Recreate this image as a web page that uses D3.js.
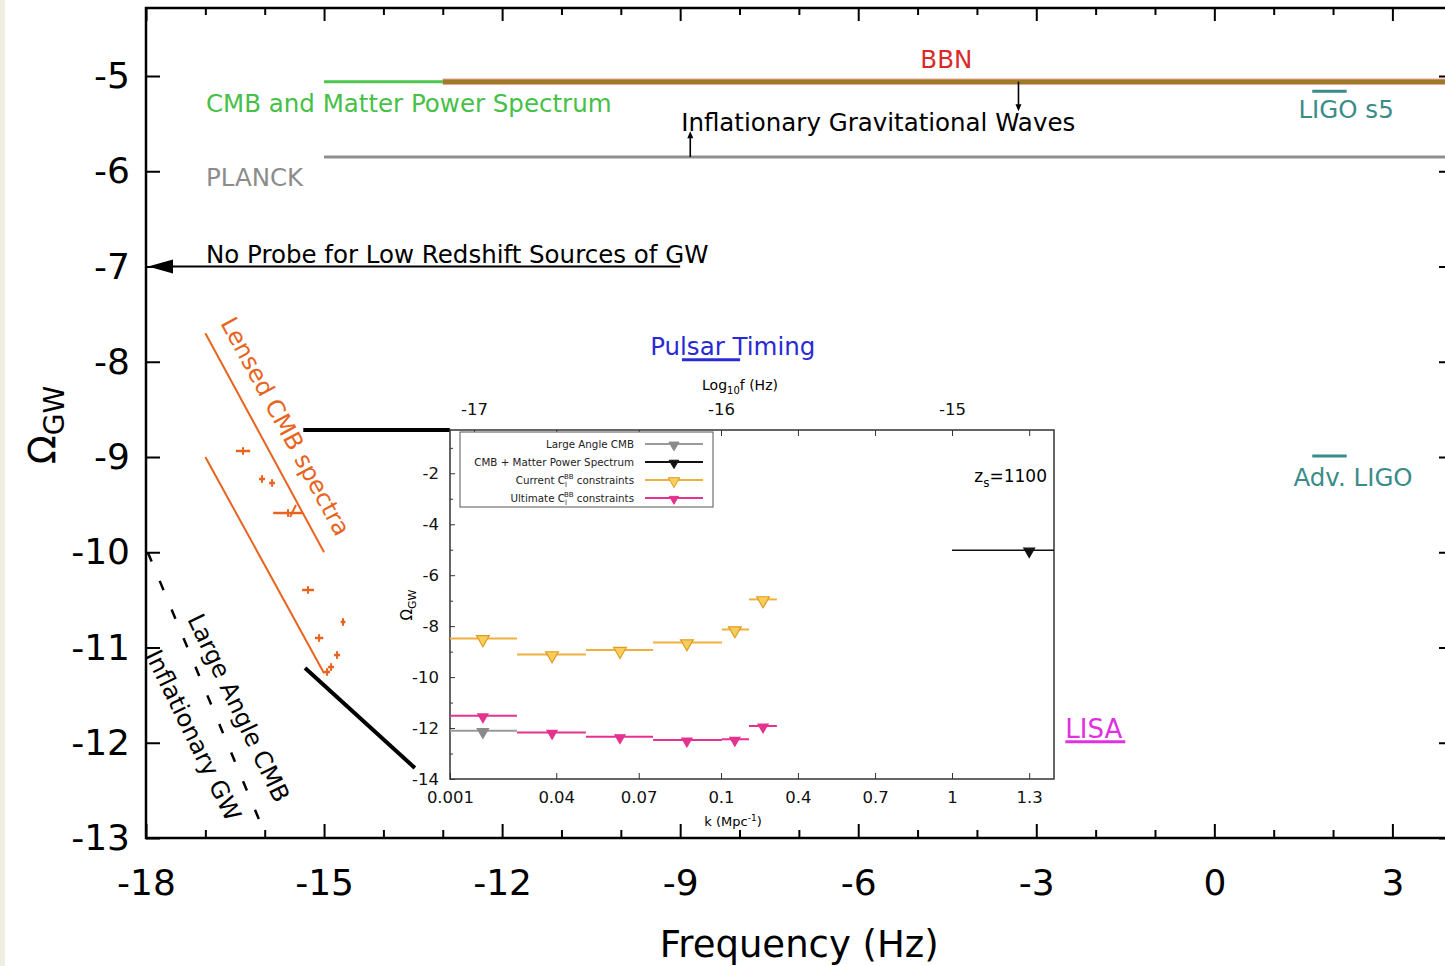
<!DOCTYPE html>
<html>
<head>
<meta charset="utf-8">
<script src="https://cdn.jsdelivr.net/npm/d3@7"></script>
<style>
    body { margin: 0; background: #fff; }
    svg { display: block; font-family: "DejaVu Sans", sans-serif; }
</style>
</head>
<body>
<div id="chart"></div>
<script>
// ---- main plot data ----
const freqTicks = [-18, -15, -12, -9, -6, -3, 0, 3];
const omegaTicks = [-5, -6, -7, -8, -9, -10, -11, -12, -13];

// horizontal constraint lines (log10 f range, log10 Omega)
const limitNames = ["CMB and Matter Power Spectrum", "BBN", "PLANCK"];
const limitFrom = [-15, -13, -15];
const limitTo = [-13, 3.92, 3.92];
const limitOmega = [-5.06, -5.06, -5.85];

// small arrows of the inflationary GW label
const igwArrowF = [-3.3, -8.83];
const igwArrowFrom = [-5.06, -5.85];
const igwArrowTo = [-5.37, -5.58];

// detector sensitivity bars
const detNames = ["LIGO s5", "Adv. LIGO", "Pulsar Timing", "LISA"];
const detFrom = [1.65, 1.65, -8.97, -2.51];
const detTo = [2.23, 2.23, -7.99, -1.50];
const detOmega = [-5.16, -8.99, -7.98, -11.99];

// lensed CMB spectra band and points
const lensedUpper = [[-17, -7.70], [-15, -10.0]];
const lensedLower = [[-17, -9.0], [-15, -11.27]];
const lensedF = [-16.365, -16.045, -15.876, -15.607, -15.270, -14.680, -15.084, -14.781, -14.882, -14.949];
const lensedOmega = [-8.937, -9.231, -9.273, -9.588, -10.396, -10.732, -10.900, -11.079, -11.205, -11.257];
const lensedHalfW = [0.12, 0.05, 0.05, 0.25, 0.1, 0.04, 0.07, 0.05, 0.05, 0.05];

// large angle CMB (dashed)
const largeAngle = [[-17.97, -10.0], [-16.0, -12.95]];

// ---- inset data ----
const insetOmegaTicks = [-2, -4, -6, -8, -10, -12, -14];
const logfTicks = [-17, -16.667, -16.333, -16, -15.667, -15.333, -15, -14.667];
const kLabels = ["0.001", "0.04", "0.07", "0.1", "0.4", "0.7", "1", "1.3"];
const kLabelAt = [-17.1, -16.667, -16.333, -16, -15.667, -15.333, -15, -14.667];

const binLo = [-17.1, -16.826, -16.547, -16.275, -15.996, -15.879];
const binHi = [-16.826, -16.547, -16.275, -15.996, -15.879, -15.758];
const binMid = [-16.964, -16.684, -16.409, -16.138, -15.94, -15.818];
const currentBB = [-8.48, -9.11, -8.94, -8.64, -8.13, -6.95];
const ultimateBB = [-11.52, -12.17, -12.34, -12.47, -12.44, -11.92];
const largeAngleCMB = [-12.11];
const cmbMatterLo = [-15.0], cmbMatterHi = [-14.56], cmbMatterMid = [-14.667];
const cmbMatterPS = [-5.02];

const legendNames = ["Large Angle CMB", "CMB + Matter Power Spectrum", "Current C|BB| constraints", "Ultimate C|BB| constraints"];

// ---- set up ----
const W = 1445, H = 966;
const svg = d3.select("#chart").append("svg").attr("width", W).attr("height", H);

svg.append("rect").attr("x", 0).attr("y", 0).attr("width", 5).attr("height", H).attr("fill", "#efece1");

const plot = {left: 146, top: 8, right: 1447, bottom: 838};
const x = d3.scaleLinear().domain([-18, 3.92]).range([plot.left, plot.right]);
const y = d3.scaleLinear().domain([-13, -4.286]).range([plot.bottom, plot.top]);

function styleAxis(g, size) {
    g.select(".domain").remove();
    g.selectAll("line").attr("stroke", "#000").attr("stroke-width", 2);
    g.attr("font-family", null).attr("font-size", size);
    g.selectAll("text").attr("fill", "#000");
}

let minorF = d3.range(-17, 4).filter(v => v % 3 !== 0);

svg.append("g").attr("transform", `translate(0,${plot.bottom})`)
    .call(d3.axisBottom(x).tickValues(freqTicks).tickSize(-14).tickPadding(31).tickFormat(d => String(d)))
    .call(g => styleAxis(g, 36));
svg.append("g").attr("transform", `translate(0,${plot.bottom})`)
    .call(d3.axisBottom(x).tickValues(minorF).tickSize(-8).tickFormat(""))
    .call(g => styleAxis(g, 36));
svg.append("g").attr("transform", `translate(0,${plot.top})`)
    .call(d3.axisTop(x).tickValues(freqTicks).tickSize(-13).tickFormat(""))
    .call(g => styleAxis(g, 36));
svg.append("g").attr("transform", `translate(0,${plot.top})`)
    .call(d3.axisTop(x).tickValues(minorF).tickSize(-7).tickFormat(""))
    .call(g => styleAxis(g, 36));
svg.append("g").attr("transform", `translate(${plot.left},0)`)
    .call(d3.axisLeft(y).tickValues(omegaTicks).tickSize(-14).tickPadding(16).tickFormat(d => String(d)))
    .call(g => styleAxis(g, 36));
svg.append("g").attr("transform", `translate(${plot.right},0)`)
    .call(d3.axisRight(y).tickValues(omegaTicks).tickSize(-8).tickFormat(""))
    .call(g => styleAxis(g, 36));

svg.append("rect")
    .attr("x", plot.left).attr("y", plot.top)
    .attr("width", plot.right - plot.left).attr("height", plot.bottom - plot.top)
    .attr("fill", "none").attr("stroke", "#000").attr("stroke-width", 2.5);

// axis titles
svg.append("text")
    .attr("x", (x(-18) + x(3)) / 2 + 30).attr("y", 957)
    .attr("text-anchor", "middle").attr("font-size", 37)
    .text("Frequency (Hz)");

let ylab = svg.append("text")
    .attr("transform", "translate(55,425) rotate(-90)")
    .attr("text-anchor", "middle").attr("font-size", 38);
ylab.append("tspan").text("Ω");
ylab.append("tspan").attr("font-size", 28).attr("dy", 9).text("GW");

// ---- constraint lines ----
const limitColor = ["#4cc64c", "#9c7a26", "#8f8f8f"];
const limitWidth = [3, 4.5, 3];
// red rim for BBN band
svg.append("line")
    .attr("x1", x(limitFrom[1])).attr("x2", x(limitTo[1]))
    .attr("y1", y(limitOmega[1])).attr("y2", y(limitOmega[1]))
    .attr("stroke", "#eca69c").attr("stroke-width", 6.5);
limitNames.forEach((n, i) => {
    svg.append("line")
        .attr("x1", x(limitFrom[i])).attr("x2", x(limitTo[i]))
        .attr("y1", y(limitOmega[i])).attr("y2", y(limitOmega[i]))
        .attr("stroke", limitColor[i]).attr("stroke-width", limitWidth[i]);
});

// arrows for inflationary GW
igwArrowF.forEach((f, i) => {
    let x0 = x(f), y0 = y(igwArrowFrom[i]), y1 = y(igwArrowTo[i]);
    let dir = y1 > y0 ? 1 : -1;
    svg.append("line").attr("x1", x0).attr("x2", x0).attr("y1", y0).attr("y2", y1 - dir * 5)
        .attr("stroke", "#000").attr("stroke-width", 1.6);
    svg.append("path")
        .attr("d", `M${x0 - 3},${y1 - dir * 7}L${x0 + 3},${y1 - dir * 7}L${x0},${y1}Z`)
        .attr("fill", "#000");
});

// no probe arrow
svg.append("line")
    .attr("x1", x(-9)).attr("x2", x(-18) + 20)
    .attr("y1", y(-7)).attr("y2", y(-7))
    .attr("stroke", "#000").attr("stroke-width", 2);
svg.append("path")
    .attr("d", `M${x(-18) + 2},${y(-7)}L${x(-18) + 27},${y(-7) - 7}L${x(-18) + 27},${y(-7) + 7}Z`)
    .attr("fill", "#000");

// detector bars
const detColor = ["#3b8c89", "#3b8c89", "#2a2ad4", "#e030e0"];
detNames.forEach((n, i) => {
    svg.append("line")
        .attr("x1", x(detFrom[i])).attr("x2", x(detTo[i]))
        .attr("y1", y(detOmega[i])).attr("y2", y(detOmega[i]))
        .attr("stroke", detColor[i]).attr("stroke-width", 3);
});

// annotation texts
const notes = [
    {t: "CMB and Matter Power Spectrum", f: -16.99, o: -5.378, c: "#46c046"},
    {t: "BBN", f: -4.516, o: -4.916, c: "#d82a2a", a: "middle"},
    {t: "Inflationary Gravitational Waves", f: -8.983, o: -5.577, c: "#000"},
    {t: "PLANCK", f: -16.99, o: -6.155, c: "#8c8c8c"},
    {t: "LIGO s5", f: 1.417, o: -5.441, c: "#3b8c89"},
    {t: "No Probe for Low Redshift Sources of GW", f: -16.99, o: -6.963, c: "#000"},
    {t: "Pulsar Timing", f: -9.505, o: -7.929, c: "#2a2ad4"},
    {t: "Adv. LIGO", f: 1.333, o: -9.304, c: "#3b8c89"},
    {t: "LISA", f: -2.51, o: -11.95, c: "#e030e0", s: 26}
];
notes.forEach(n => {
    svg.append("text")
        .attr("x", x(n.f)).attr("y", y(n.o))
        .attr("text-anchor", n.a || "start")
        .attr("font-size", n.s || 24.5).attr("fill", n.c)
        .text(n.t);
});

// ---- lensed CMB spectra ----
const orange = "#e8641e";
const lineGen = d3.line().x(d => x(d[0])).y(d => y(d[1]));
[lensedUpper, lensedLower].forEach(l => {
    svg.append("path").attr("d", lineGen(l))
        .attr("fill", "none").attr("stroke", orange).attr("stroke-width", 2);
});
lensedF.forEach((f, i) => {
    let cx = x(f), cy = y(lensedOmega[i]);
    svg.append("line")
        .attr("x1", x(f - lensedHalfW[i])).attr("x2", x(f + lensedHalfW[i]))
        .attr("y1", cy).attr("y2", cy)
        .attr("stroke", orange).attr("stroke-width", 2.5);
    svg.append("line")
        .attr("x1", cx).attr("x2", cx)
        .attr("y1", y(lensedOmega[i] + 0.04)).attr("y2", y(lensedOmega[i] - 0.04))
        .attr("stroke", orange).attr("stroke-width", 2);
});
// slanted error on the wide point
svg.append("line")
    .attr("x1", x(lensedF[3]) + 2).attr("y1", y(lensedOmega[3]) + 4)
    .attr("x2", x(lensedF[3]) + 8).attr("y2", y(lensedOmega[3]) - 8)
    .attr("stroke", orange).attr("stroke-width", 2);

let ang1 = Math.atan2(y(lensedUpper[1][1]) - y(lensedUpper[0][1]), x(lensedUpper[1][0]) - x(lensedUpper[0][0])) * 180 / Math.PI;
svg.append("text")
    .attr("transform", `translate(220,323) rotate(${ang1})`)
    .attr("font-size", 24).attr("fill", orange)
    .text("Lensed CMB spectra");

// large angle CMB dashed line
svg.append("path").attr("d", lineGen(largeAngle))
    .attr("fill", "none").attr("stroke", "#000").attr("stroke-width", 2.5)
    .attr("stroke-dasharray", "10,21");
svg.append("text")
    .attr("transform", "translate(187,619) rotate(64.5)")
    .attr("font-size", 24).attr("fill", "#000")
    .text("Large Angle CMB");
svg.append("text")
    .attr("transform", "translate(145,655) rotate(64)")
    .attr("font-size", 24).attr("fill", "#000")
    .text("Inflationary GW");

// connectors to the inset
const connectors = [[[-15.35, -8.717], [-12.88, -8.717]], [[-15.32, -11.215], [-13.47, -12.265]]];
connectors.forEach(c => {
    svg.append("path").attr("d", lineGen(c))
        .attr("stroke", "#000").attr("stroke-width", 4).attr("fill", "none");
});

// ---- inset ----
const inset = {left: 450, top: 430, width: 604, height: 349};
const xi = d3.scaleLinear().domain([-17.1, -17, -16, -15, -14.56]).range([0, 24, 271, 502, 604]);
const yi = d3.scaleLinear().domain([-14, -0.3]).range([inset.height, 0]);

const gi = svg.append("g").attr("transform", `translate(${inset.left},${inset.top})`);
gi.append("rect").attr("width", inset.width).attr("height", inset.height)
    .attr("fill", "#fff");

function styleInset(g) {
    g.select(".domain").remove();
    g.selectAll("line").attr("stroke", "#333").attr("stroke-width", 1);
    g.attr("font-family", null).attr("font-size", 16.5);
    g.selectAll("text").attr("fill", "#111");
}

gi.append("g").attr("transform", `translate(0,${inset.height})`)
    .call(d3.axisBottom(xi).tickValues(kLabelAt).tickSize(-6).tickPadding(12).tickFormat((d, i) => kLabels[i]))
    .call(styleInset);
gi.append("g")
    .call(d3.axisTop(xi).tickValues(logfTicks).tickSize(-6).tickPadding(15)
        .tickFormat(d => Math.abs(d - Math.round(d)) < 1e-6 ? String(Math.round(d)) : ""))
    .call(styleInset);
gi.append("g")
    .call(d3.axisLeft(yi).tickValues(insetOmegaTicks).tickSize(-5).tickPadding(11).tickFormat(d => String(d)))
    .call(styleInset);
gi.append("g")
    .call(d3.axisLeft(yi).tickValues(d3.range(-13, -0.5, 2)).tickSize(-3).tickFormat(""))
    .call(styleInset);

gi.append("rect").attr("width", inset.width).attr("height", inset.height)
    .attr("fill", "none").attr("stroke", "#333").attr("stroke-width", 1.5);

// inset axis titles
let lt = gi.append("text").attr("x", 290).attr("y", -40).attr("text-anchor", "middle").attr("font-size", 14);
lt.append("tspan").text("Log");
lt.append("tspan").attr("font-size", 10).attr("dy", 4).text("10");
lt.append("tspan").attr("dy", -4).text("f (Hz)");

let kt = gi.append("text").attr("x", 283).attr("y", 396).attr("text-anchor", "middle").attr("font-size", 13);
kt.append("tspan").text("k (Mpc");
kt.append("tspan").attr("font-size", 9).attr("dy", -5).text("-1");
kt.append("tspan").attr("dy", 5).text(")");

let oi = gi.append("text").attr("transform", "translate(-38,175) rotate(-90)")
    .attr("text-anchor", "middle").attr("font-size", 15);
oi.append("tspan").text("Ω");
oi.append("tspan").attr("font-size", 11).attr("dy", 4).text("GW");

let zt = gi.append("text").attr("x", 597).attr("y", 52).attr("text-anchor", "end").attr("font-size", 17);
zt.append("tspan").text("z");
zt.append("tspan").attr("font-size", 12).attr("dy", 5).text("s");
zt.append("tspan").attr("dy", -5).text("=1100");

// inset series
const tri = d3.symbol().type(d3.symbolTriangle);
const series = [
    {lo: binLo, hi: binHi, mid: binMid, v: currentBB, c: "#f0b040", fill: "#f6cf5a", stroke: "#e39a22", s: 70, w: 2},
    {lo: binLo, hi: binHi, mid: binMid, v: ultimateBB, c: "#e4338f", fill: "#e4338f", stroke: "#e4338f", s: 45, w: 2},
    {lo: binLo, hi: binHi, mid: binMid, v: largeAngleCMB, c: "#9a9a9a", fill: "#8a8a8a", stroke: "#8a8a8a", s: 55, w: 2},
    {lo: cmbMatterLo, hi: cmbMatterHi, mid: cmbMatterMid, v: cmbMatterPS, c: "#111", fill: "#111", stroke: "#111", s: 50, w: 1.5}
];
series.forEach(s => {
    s.v.forEach((v, i) => {
        gi.append("line")
            .attr("x1", xi(s.lo[i])).attr("x2", xi(s.hi[i]))
            .attr("y1", yi(v)).attr("y2", yi(v))
            .attr("stroke", s.c).attr("stroke-width", s.w);
        gi.append("path")
            .attr("d", tri.size(s.s)())
            .attr("transform", `translate(${xi(s.mid[i])},${yi(v) + 1}) rotate(180)`)
            .attr("fill", s.fill).attr("stroke", s.stroke).attr("stroke-width", 1.2);
    });
});

// legend
const legendColor = ["#9a9a9a", "#111", "#f0b040", "#e4338f"];
const legendOrder = [2, 3, 0, 1];
const lg = gi.append("g").attr("transform", "translate(10,2)");
lg.append("rect").attr("width", 253).attr("height", 75)
    .attr("fill", "#fff").attr("stroke", "#555").attr("stroke-width", 1);
legendNames.forEach((n, i) => {
    let yy = 12 + i * 18;
    let parts = n.split("|");
    let t = lg.append("text").attr("x", 174).attr("y", yy + 4)
        .attr("text-anchor", "end").attr("font-size", 10.3).attr("fill", "#222");
    if (parts.length === 1) {
        t.text(n);
    } else {
        t.append("tspan").text(parts[0]);
        t.append("tspan").attr("font-size", 7).attr("dy", 3).text("l");
        t.append("tspan").attr("font-size", 7).attr("dx", -3).attr("dy", -8).text(parts[1]);
        t.append("tspan").attr("dy", 5).text(parts[2]);
    }
    let s = series[legendOrder[i]];
    lg.append("line").attr("x1", 185).attr("x2", 243).attr("y1", yy).attr("y2", yy)
        .attr("stroke", legendColor[i]).attr("stroke-width", 1.8);
    lg.append("path").attr("d", tri.size(s.s * 0.8)())
        .attr("transform", `translate(214,${yy + 1}) rotate(180)`)
        .attr("fill", s.fill).attr("stroke", s.stroke).attr("stroke-width", 1);
});
</script>
</body>
</html>
